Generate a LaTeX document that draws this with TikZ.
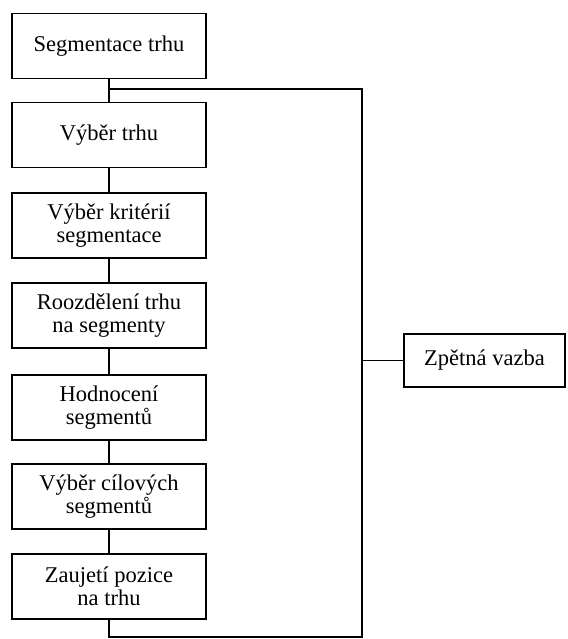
\documentclass[tikz,border=0pt]{standalone}
\usepackage{fontspec}
\setmainfont{Liberation Serif}
\begin{document}
\begin{tikzpicture}[x=1pt,y=-1pt,
  line width=1.2pt,
  stepbox/.style={draw, line width=1.2pt, minimum width=194pt, minimum height=65pt,
    inner sep=0pt, align=center, font=\fontsize{22.5}{23.5}\selectfont},
  fbbox/.style={draw, line width=1.2pt, minimum width=161pt, minimum height=53pt,
    inner sep=0pt, align=center, font=\fontsize{22.5}{23.5}\selectfont},
  link/.style={draw, line width=1.2pt}]
\useasboundingbox (0,0) rectangle (567,639);
\node[stepbox] (b1) at (109,46) {Segmentace trhu};
\node[stepbox] (b2) at (109,135) {Výběr trhu};
\node[stepbox] (b3) at (109,225.5) {Výběr kritérií\\segmentace};
\node[stepbox] (b4) at (109,315.5) {Roozdělení trhu\\na segmenty};
\node[stepbox] (b5) at (109,407.5) {Hodnocení\\segmentů};
\node[stepbox] (b6) at (109,496.5) {Výběr cílových\\segmentů};
\node[stepbox] (b7) at (109,586.5) {Zaujetí pozice\\na trhu};
\node[fbbox] (zv) at (484.5,360.5) {Zpětná vazba};
\coordinate (j1) at (109,89);
\coordinate (c1) at (362,89);
\coordinate (c2) at (362,637);
\coordinate (j2) at (109,637);
\path[link] (b1) -- (b2);
\path[link] (b2) -- (b3);
\path[link] (b3) -- (b4);
\path[link] (b4) -- (b5);
\path[link] (b5) -- (b6);
\path[link] (b6) -- (b7);
\path[link] (j1) -- (c1) -- (c2) -- (j2) -- (b7);
\path[link] (zv) -- (zv.west -| c1);
\end{tikzpicture}
\end{document}
